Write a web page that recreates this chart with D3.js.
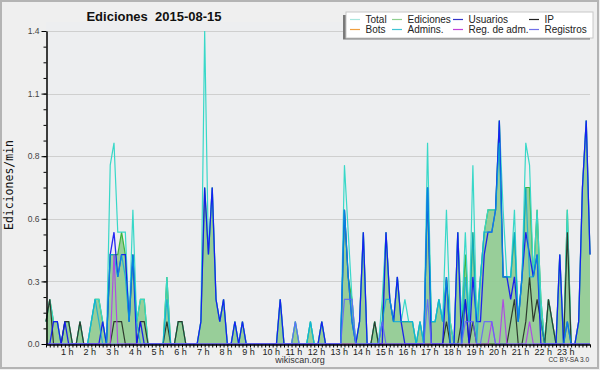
<!DOCTYPE html>
<html>
<head>
<meta charset="utf-8">
<script src="https://cdn.jsdelivr.net/npm/d3@7"></script>
<style>
  body { margin: 0; background: #fff; }
  svg text { font-family: "Liberation Sans", Arial, sans-serif; }
</style>
</head>
<body>
<svg id="chart" width="600" height="370"></svg>
<script>
// one value every 10 minutes, 00:00 .. 24:00, in edits per minute
const total = [
  0.1,0.2,0.1,0.1,0,0.1, 0.1,0,0,0.1,0,0,
  0.1,0.2,0.2,0.1,0,0.8, 0.9,0.5,0.5,0.5,0.1,0.6,
  0.1,0.2,0.2,0,0,0, 0,0,0.3,0,0,0.1,
  0.1,0,0,0,0,0.1, 1.4,0.4,0.7,0.2,0.1,0.2,
  0,0,0.1,0,0.1,0, 0,0,0,0,0,0,
  0,0,0.2,0,0,0, 0.1,0,0,0,0.1,0,
  0,0.1,0,0,0,0, 0,0.8,0.5,0.2,0,0.1,
  0.5,0,0,0.1,0,0.2, 0.5,0.2,0.1,0.3,0.1,0.2,
  0.1,0.1,0,0.1,0,0.9, 0.1,0.1,0.2,0.1,0.6,0.1,
  0,0.5,0.1,0.5,0.1,0.8, 0.1,0.3,0.5,0.6,0.6,0.6,
  1.0,0.6,0.3,0.3,0.6,0.1, 0.3,0.9,0.8,0.3,0.6,0.2,
  0,0.2,0.1,0,0.4,0, 0.6,0,0,0.1,0.7,1.0,
  0.4
];
const ediciones = [
  0.1,0.2,0.1,0.1,0,0.1, 0.1,0,0,0.1,0,0,
  0.1,0.2,0.2,0.1,0,0.4, 0.4,0.4,0.5,0.4,0.1,0.4,
  0.1,0.2,0.2,0,0,0, 0,0,0.3,0,0,0.1,
  0.1,0,0,0,0,0.1, 0.7,0.4,0.7,0.2,0.1,0.2,
  0,0,0.1,0,0.1,0, 0,0,0,0,0,0,
  0,0,0.2,0,0,0, 0.1,0,0,0,0.1,0,
  0,0.1,0,0,0,0, 0,0.6,0.3,0.2,0,0.1,
  0.5,0,0,0.1,0,0.1, 0.5,0.2,0.1,0.3,0.1,0.1,
  0.1,0.1,0,0.1,0,0.7, 0.1,0.1,0.2,0.1,0.3,0.1,
  0,0.5,0.1,0.4,0.1,0.5, 0.1,0.3,0.5,0.6,0.6,0.6,
  1.0,0.3,0.3,0.3,0.5,0.1, 0.3,0.7,0.7,0.3,0.6,0.2,
  0,0.2,0.1,0,0.4,0, 0.6,0,0,0.1,0.7,1.0,
  0.4
];
const usuarios = [
  0,0,0.1,0.1,0,0.1, 0,0,0,0,0,0,
  0,0,0,0.1,0,0.4, 0.5,0.3,0.4,0.4,0.1,0.4,
  0,0.1,0,0,0,0, 0,0,0,0,0,0,
  0,0,0,0,0,0.1, 0.7,0.4,0.7,0.2,0.1,0.2,
  0,0,0.1,0,0.1,0, 0,0,0,0,0,0,
  0,0,0.2,0,0,0, 0,0,0,0,0,0,
  0,0.1,0,0,0,0, 0,0.6,0.3,0.1,0,0.1,
  0.5,0,0,0,0,0, 0.5,0.2,0.1,0.3,0.1,0,
  0,0,0,0,0,0.7, 0,0,0,0,0.3,0,
  0,0.5,0,0.2,0,0.3, 0.1,0.1,0.4,0.5,0.5,0.6,
  1.0,0.3,0.3,0.2,0.3,0.1, 0.3,0.5,0.4,0.3,0.4,0,
  0,0,0,0,0.4,0, 0.1,0,0,0.1,0.7,1.0,
  0.4
];
const ip = [
  0.1,0.2,0,0,0,0.1, 0.1,0,0,0.1,0,0,
  0,0,0,0,0,0, 0.1,0.1,0.1,0,0,0,
  0,0.1,0.1,0,0,0, 0,0,0.1,0,0,0.1,
  0.1,0,0,0,0,0, 0,0,0,0,0,0,
  0,0,0,0,0,0, 0,0,0,0,0,0,
  0,0,0,0,0,0, 0,0,0,0,0,0,
  0,0,0,0,0,0, 0,0,0,0,0,0,
  0,0,0,0.1,0,0, 0,0,0,0,0,0,
  0,0,0,0,0,0, 0,0,0,0,0.1,0,
  0,0,0.1,0.2,0,0.1, 0,0,0,0,0,0,
  0,0,0,0.1,0.2,0, 0,0.1,0.3,0.1,0.2,0.1,
  0,0.2,0.1,0,0,0, 0.5,0,0,0,0,0,
  0
];
const bots = [
  0,0,0,0,0,0, 0,0,0,0,0,0,
  0,0,0,0,0,0, 0,0,0,0,0,0,
  0,0,0,0,0,0, 0,0,0,0,0,0,
  0,0,0,0,0,0, 0,0,0,0,0,0,
  0,0,0,0,0,0, 0,0,0,0,0,0,
  0,0,0,0,0,0, 0,0,0,0,0,0,
  0,0,0,0,0,0, 0,0,0,0,0,0,
  0,0,0,0,0,0, 0,0,0,0,0,0,
  0,0,0,0,0,0, 0,0,0,0,0,0,
  0,0,0,0,0,0, 0,0,0,0,0,0,
  0,0,0,0,0,0, 0,0,0,0,0,0,
  0,0,0,0,0,0, 0,0,0,0,0,0,
  0
];
const admins = [
  0,0,0,0,0,0, 0,0,0,0,0,0,
  0.1,0.2,0.1,0,0,0.4, 0.4,0.3,0.4,0.3,0.1,0.4,
  0.1,0,0,0,0,0, 0,0,0.2,0,0,0,
  0,0,0,0,0,0, 0,0,0,0,0,0,
  0,0,0,0,0,0, 0,0,0,0,0,0,
  0,0,0,0,0,0, 0,0,0,0,0.1,0,
  0,0,0,0,0,0, 0,0.6,0.3,0.1,0,0,
  0,0,0,0,0,0.1, 0.2,0.2,0.1,0.1,0.1,0.1,
  0.1,0.1,0,0.1,0,0.7, 0.1,0.1,0.2,0.1,0.3,0,
  0,0,0,0.3,0.1,0.5, 0,0.3,0.5,0.5,0.5,0.6,
  0.9,0.3,0.3,0.3,0.5,0.1, 0.3,0.7,0.3,0.3,0.4,0.1,
  0,0,0,0,0,0, 0.1,0,0,0,0,0,
  0
];
const regAdm = [
  0,0,0,0,0,0, 0,0,0,0,0,0,
  0,0,0,0,0,0, 0.4,0,0,0,0,0,
  0,0,0,0,0,0, 0,0,0,0,0,0,
  0,0,0,0,0,0, 0,0,0,0,0,0,
  0,0,0,0,0,0, 0,0,0,0,0,0,
  0,0,0,0,0,0, 0,0,0,0,0,0,
  0,0,0,0,0,0, 0,0,0,0,0,0,
  0,0,0,0,0,0, 0,0,0,0,0,0,
  0,0,0,0,0,0, 0,0,0,0,0,0,
  0,0,0,0,0,0, 0,0,0,0,0.1,0,
  0,0.2,0,0,0,0, 0,0,0.1,0,0,0,
  0,0,0,0,0,0, 0,0,0,0,0,0,
  0
];
const registros = [
  0,0,0,0,0,0, 0,0,0,0,0,0,
  0,0,0,0,0,0, 0,0,0,0,0,0,
  0,0,0,0,0,0, 0,0,0,0,0,0,
  0,0,0,0,0,0, 0,0,0,0,0,0,
  0,0,0,0,0,0, 0,0,0,0,0,0,
  0,0,0,0,0,0, 0.1,0,0,0,0,0,
  0,0,0,0,0,0, 0,0.2,0.2,0.2,0,0,
  0,0,0,0,0,0.1, 0,0,0,0,0,0,
  0,0,0,0,0,0.2, 0,0,0,0,0,0,
  0,0,0,0.1,0.1,0.1, 0,0,0.1,0.1,0.1,0,
  0,0,0,0,0,0, 0,0,0,0,0,0,
  0,0,0,0,0,0, 0,0,0,0,0,0,
  0
];

const hourLabels = ["1 h","2 h","3 h","4 h","5 h","6 h","7 h","8 h","9 h","10 h","11 h","12 h",
  "13 h","14 h","15 h","16 h","17 h","18 h","19 h","20 h","21 h","22 h","23 h"];
const yTicks = [0, 0.28, 0.56, 0.84, 1.12, 1.4];
const yTickLabels = ["0.0","0.3","0.6","0.8","1.1","1.4"];

const legendItems = [
  { name: "Total", color: "#a8e6de" },
  { name: "Ediciones", color: "#8fd08f" },
  { name: "Usuarios", color: "#3434c8" },
  { name: "IP", color: "#222222" },
  { name: "Bots", color: "#f0a040" },
  { name: "Admins.", color: "#40c4d4" },
  { name: "Reg. de adm.", color: "#c040d8" },
  { name: "Registros", color: "#7070e8" }
];

const W = 600, H = 370;
const plot = { left: 46, right: 590, top: 31, bottom: 344 };

const svg = d3.select("#chart");

// background and frame
svg.append("rect").attr("width", W).attr("height", H).attr("fill", "#efefef");
svg.append("rect").attr("x", 1).attr("y", 1).attr("width", W - 3).attr("height", H - 3)
  .attr("fill", "none").attr("stroke", "#b4b4b4").attr("stroke-width", 2);
svg.append("rect").attr("x", plot.left).attr("y", 22)
  .attr("width", plot.right - plot.left).attr("height", plot.bottom - 22)
  .attr("fill", "#edeef0");

const x = d3.scaleLinear().domain([0, total.length - 1]).range([plot.left, plot.right]);
const y = d3.scaleLinear().domain([0, 1.4]).range([plot.bottom, plot.top]);

// grid
svg.append("g").selectAll("line").data(yTicks.slice(1)).join("line")
  .attr("x1", plot.left).attr("x2", plot.right)
  .attr("y1", d => Math.round(y(d)) + 0.5).attr("y2", d => Math.round(y(d)) + 0.5)
  .attr("stroke", "#cfcfcf");

// series
const line = d3.line().x((d, i) => x(i)).y(d => y(d));
const area = d3.area().x((d, i) => x(i)).y0(plot.bottom).y1(d => y(d));

const g = svg.append("g");
g.append("path").attr("d", area(ediciones)).attr("fill", "#93cb93").attr("fill-opacity", 0.95);
g.append("path").attr("d", line(ediciones)).attr("fill", "none").attr("stroke", "#3cb43c").attr("stroke-width", 1.2);
g.append("path").attr("d", line(total)).attr("fill", "none").attr("stroke", "#38d8c8").attr("stroke-width", 1.2);
g.append("path").attr("d", line(bots)).attr("fill", "none").attr("stroke", "#f0a040").attr("stroke-width", 1.2).attr("stroke-opacity", 0);
g.append("path").attr("d", line(ip)).attr("fill", "none").attr("stroke", "#2e3a2e").attr("stroke-width", 1.2);
g.append("path").attr("d", line(usuarios)).attr("fill", "none").attr("stroke", "#1010f4").attr("stroke-width", 1.3).attr("stroke-opacity", 0.9);
g.append("path").attr("d", line(admins)).attr("fill", "none").attr("stroke", "#00a8e0").attr("stroke-width", 1.2).attr("stroke-opacity", 0.75);
g.append("path").attr("d", line(regAdm)).attr("fill", "none").attr("stroke", "#b040e8").attr("stroke-width", 1.2).attr("stroke-opacity", 0.9);
g.append("path").attr("d", line(registros)).attr("fill", "none").attr("stroke", "#6060ff").attr("stroke-width", 1.2).attr("stroke-opacity", 0.85);

// y axis
const yAxis = svg.append("g").attr("transform", `translate(${plot.left + 0.5},0)`)
  .call(d3.axisLeft(y).tickValues(yTicks).tickSize(5).tickSizeOuter(0)
    .tickFormat((d, i) => yTickLabels[i]));
svg.append("g").attr("transform", `translate(${plot.left + 0.5},0)`)
  .call(d3.axisLeft(y).tickValues(d3.range(0, 1.4, 0.07)).tickSize(3).tickFormat(""))
  .select(".domain").remove();

// x axis, one tick per 10 minutes, labels on the hours
const xAxis = svg.append("g").attr("transform", `translate(0,${plot.bottom + 0.5})`)
  .call(d3.axisBottom(x).tickValues(d3.range(0, total.length)).tickSize(3).tickSizeOuter(0)
    .tickFormat(d => (d % 6 === 0 && d > 0 && d < 144) ? hourLabels[d / 6 - 1] : ""));

[yAxis, xAxis].forEach(a => {
  a.selectAll("line").attr("stroke", "#000");
  a.select(".domain").attr("stroke", "#000").attr("stroke-width", 1.5);
});
svg.selectAll("g line").filter(function () { return this.parentNode.classList.contains("tick"); })
  .attr("stroke", "#000");
yAxis.selectAll("text").attr("font-size", 8.5).attr("fill", "#444").attr("dx", 1);
xAxis.selectAll("text").attr("font-size", 9).attr("fill", "#222").attr("dy", 4).attr("dx", -2);

// titles
svg.append("text").attr("x", 154).attr("y", 21).attr("text-anchor", "middle")
  .attr("font-size", 13).attr("font-weight", "bold").attr("fill", "#111")
  .text("Ediciones  2015-08-15").style("white-space", "pre");
svg.append("text").attr("transform", "translate(13,185) rotate(-90)").attr("text-anchor", "middle")
  .style("font-family", "'DejaVu Sans Mono', monospace").attr("font-size", 11.5).attr("fill", "#111")
  .text("Ediciones/min");
svg.append("text").attr("x", 300).attr("y", 363).attr("text-anchor", "middle")
  .attr("font-size", 9).attr("fill", "#333").text("wikiscan.org");
svg.append("text").attr("x", 589).attr("y", 362).attr("text-anchor", "end")
  .attr("font-size", 6.5).attr("fill", "#333").text("CC BY-SA 3.0");

// legend
const lg = svg.append("g");
lg.append("rect").attr("x", 343).attr("y", 15).attr("width", 247).attr("height", 24.5).attr("fill", "#7a7a7a");
lg.append("rect").attr("x", 346).attr("y", 12).attr("width", 247).attr("height", 26)
  .attr("fill", "#fff").attr("stroke", "#c8c8c8");
const colX = [350, 392, 453, 529];
const rowY = [19.5, 29.5];
legendItems.forEach((d, i) => {
  const cx = colX[i % 4], cy = rowY[Math.floor(i / 4)];
  lg.append("line").attr("x1", cx).attr("x2", cx + 10).attr("y1", cy).attr("y2", cy)
    .attr("stroke", d.color).attr("stroke-width", 1.2);
  lg.append("text").attr("x", cx + 15.5).attr("y", cy + 3.5).attr("font-size", 10)
    .attr("fill", "#222").text(d.name);
});
</script>
</body>
</html>
